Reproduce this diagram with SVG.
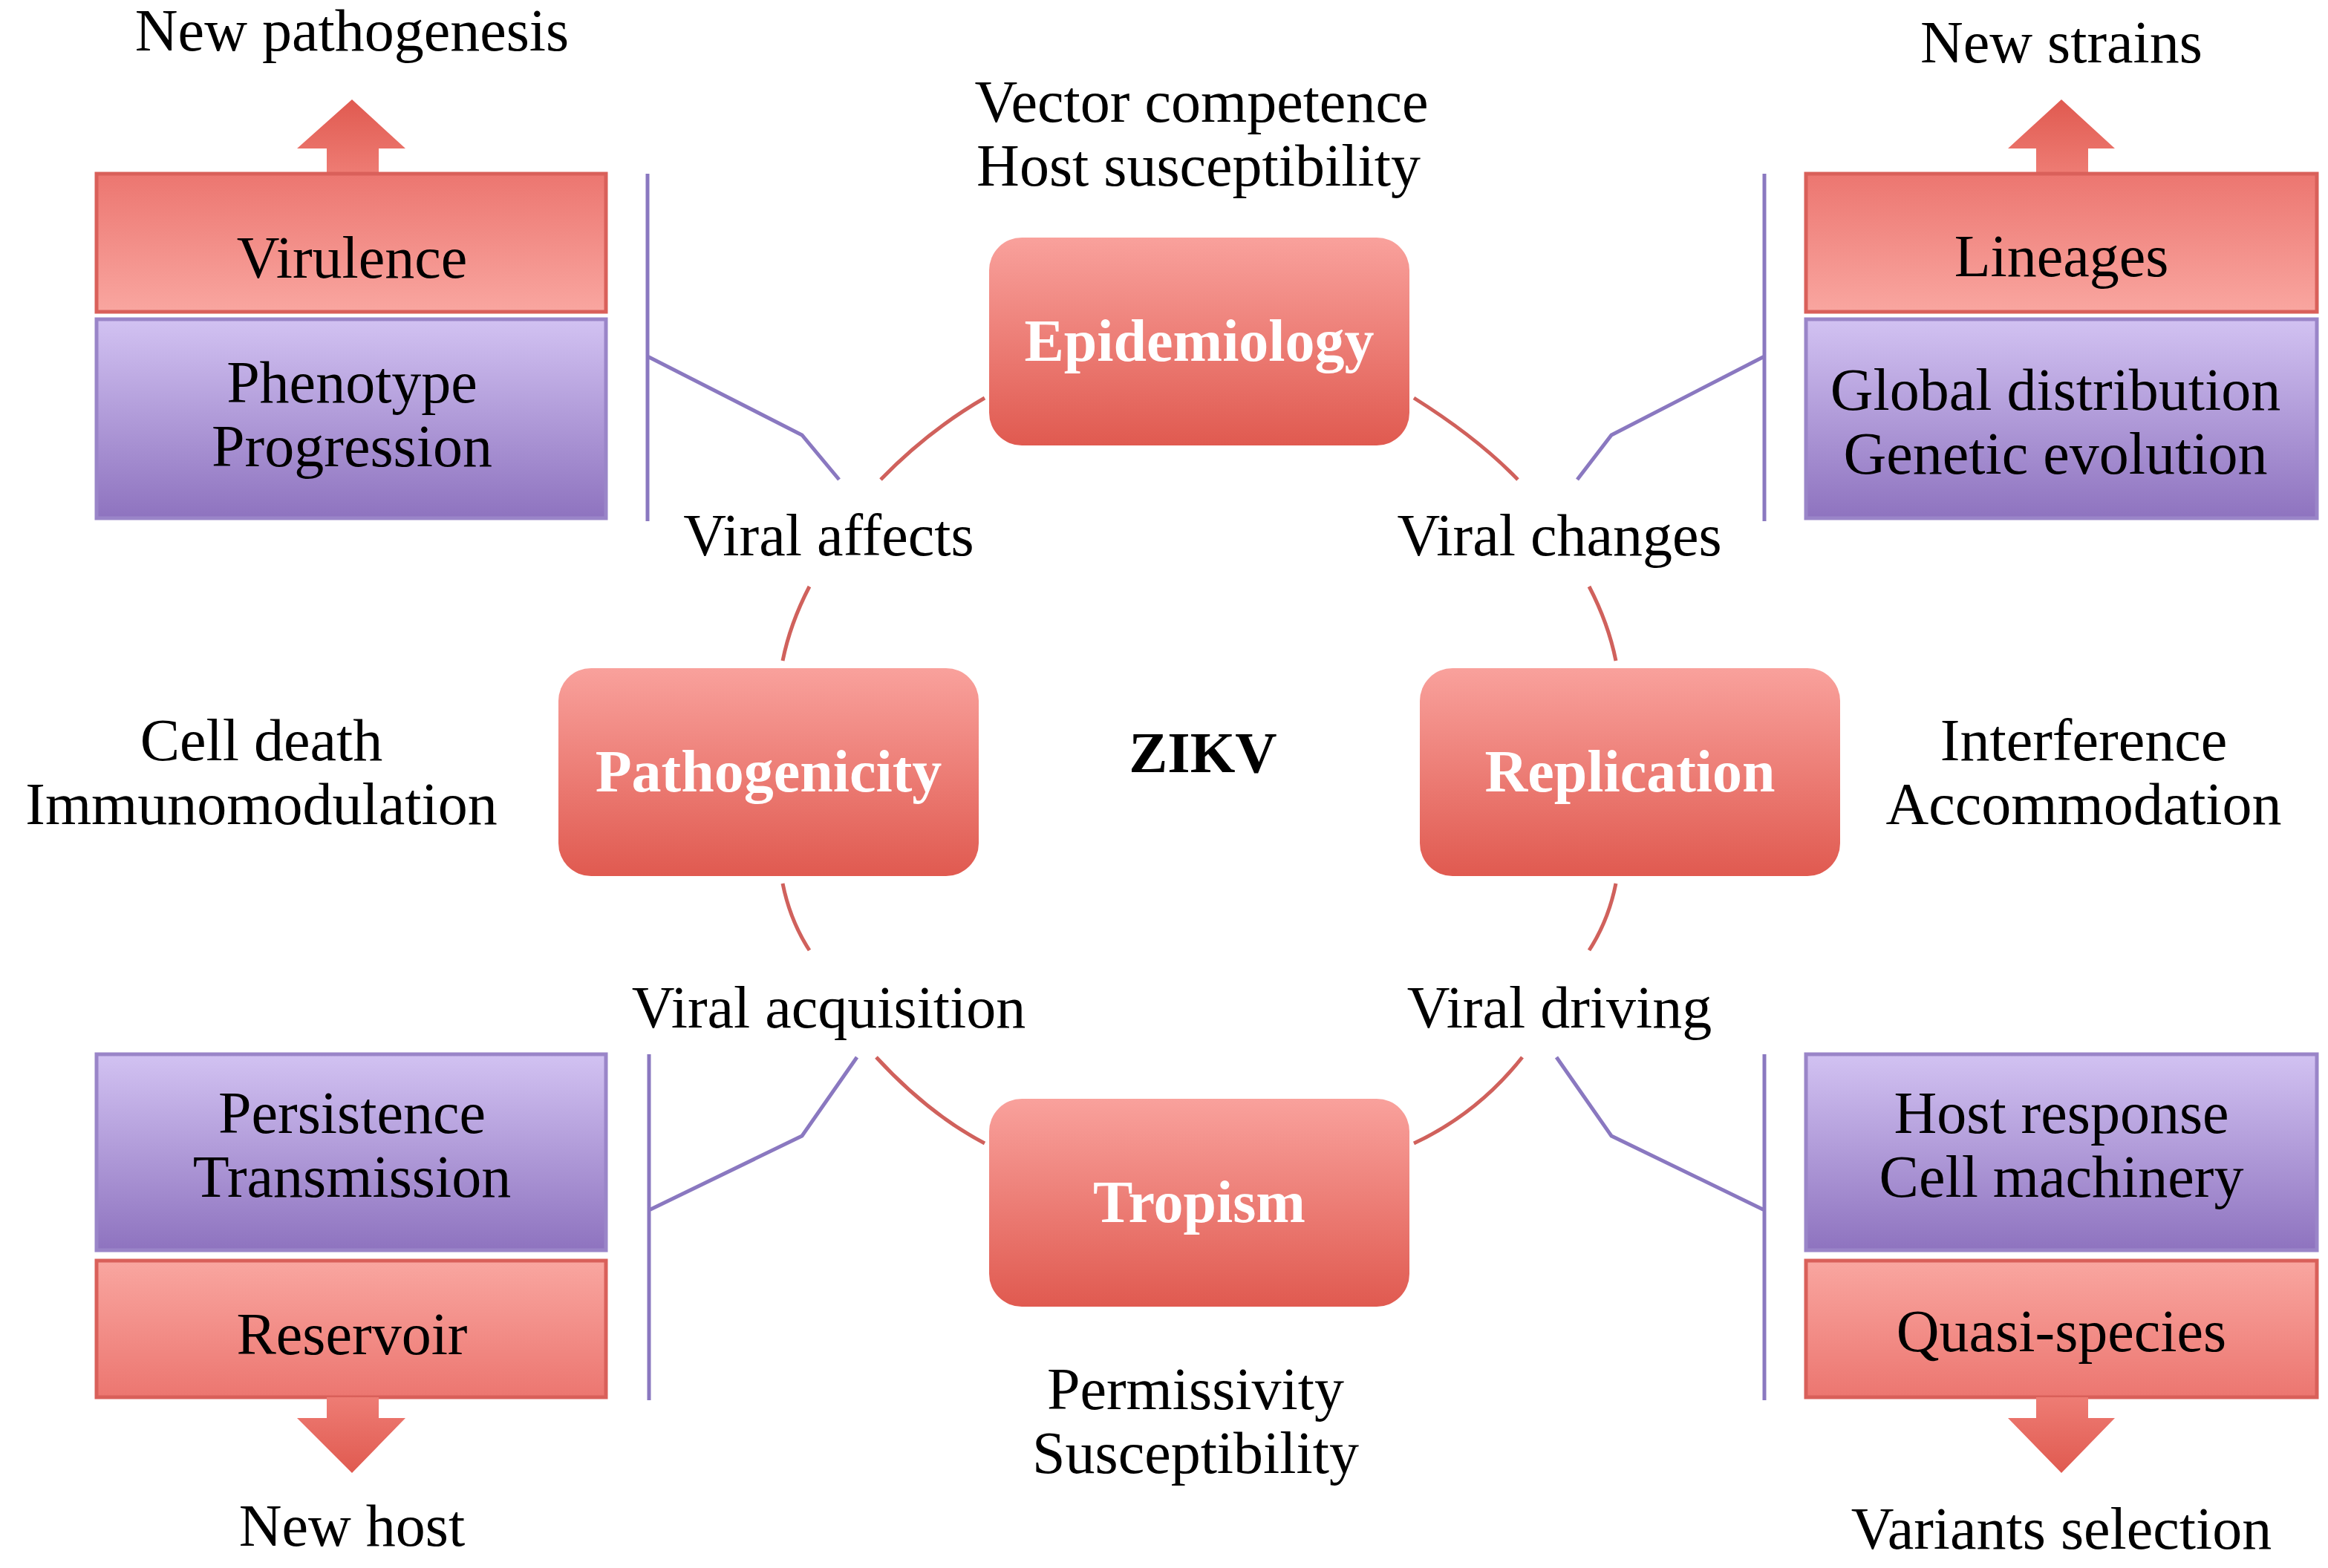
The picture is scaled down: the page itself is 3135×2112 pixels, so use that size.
<svg xmlns="http://www.w3.org/2000/svg" width="3135" height="2112" viewBox="0 0 3135 2112">
<defs>
<linearGradient id="gRed" x1="0" y1="0" x2="0" y2="1"><stop offset="0" stop-color="#f9a19c"/><stop offset="1" stop-color="#e05a50"/></linearGradient>
<linearGradient id="gRedBox" x1="0" y1="0" x2="0" y2="1"><stop offset="0" stop-color="#ec7670"/><stop offset="1" stop-color="#f9a6a0"/></linearGradient>
<linearGradient id="gRedBox2" x1="0" y1="0" x2="0" y2="1"><stop offset="0" stop-color="#f9a6a0"/><stop offset="1" stop-color="#ec7670"/></linearGradient>
<linearGradient id="gPur" x1="0" y1="0" x2="0" y2="1"><stop offset="0" stop-color="#d2c2f2"/><stop offset="1" stop-color="#8e73bf"/></linearGradient>
<linearGradient id="gArrUp" x1="0" y1="0" x2="0" y2="1"><stop offset="0" stop-color="#e05a50"/><stop offset="1" stop-color="#ee7c74"/></linearGradient>
<linearGradient id="gArrDn" x1="0" y1="0" x2="0" y2="1"><stop offset="0" stop-color="#ee7c74"/><stop offset="1" stop-color="#e05a50"/></linearGradient>
</defs>
<style>
text{font-family:"Liberation Serif","DejaVu Serif",serif;fill:#000;text-anchor:middle}
.t{font-size:80px}
.n{font-size:80px;font-weight:bold;fill:#fff}
.node{fill:url(#gRed)}
.rb{stroke:#d9605a;stroke-width:5}
.pb{stroke:#9a85c8;stroke-width:5}
.red{fill:none;stroke:#d0615c;stroke-width:5}
.pur{fill:none;stroke:#8a78c0;stroke-width:5}
</style>
<rect width="3135" height="2112" fill="#fff"/>
<g id="connectors">
<path class="red" d="M1186,646 Q1250,580 1326,536"/>
<path class="red" d="M1904,536 Q1990,590 2044,646"/>
<path class="red" d="M1090,790 Q1064,840 1054,890"/>
<path class="red" d="M2140,790 Q2166,840 2176,890"/>
<path class="red" d="M1054,1190 Q1064,1240 1090,1280"/>
<path class="red" d="M2176,1190 Q2166,1240 2140,1280"/>
<path class="red" d="M1180,1424 Q1250,1500 1326,1540"/>
<path class="red" d="M2050,1424 Q1990,1500 1904,1540"/>
<path class="pur" d="M872,234 V702 M872,480 L1080,586 L1130,646"/>
<path class="pur" d="M2376,234 V702 M2376,480 L2170,586 L2124,646"/>
<path class="pur" d="M874,1420 V1886 M874,1630 L1080,1530 L1154,1424"/>
<path class="pur" d="M2376,1420 V1886 M2376,1630 L2170,1530 L2096,1424"/>
</g>
<g id="top-left">
<text class="t" x="474" y="68">New pathogenesis</text>
<path d="M474,134 L546,200 L510,200 L510,234 L440,234 L440,200 L400,200 Z" fill="url(#gArrUp)"/>
<rect class="rb" x="130" y="234" width="686" height="186" fill="url(#gRedBox)"/>
<text class="t" x="474" y="374">Virulence</text>
<rect class="pb" x="130" y="430" width="686" height="268" fill="url(#gPur)"/>
<text class="t" x="474" y="542">Phenotype</text>
<text class="t" x="474" y="628">Progression</text>
</g>
<g id="top-right">
<text class="t" x="2776" y="84">New strains</text>
<path d="M2776,134 L2848,200 L2812,200 L2812,234 L2742,234 L2742,200 L2704,200 Z" fill="url(#gArrUp)"/>
<rect class="rb" x="2432" y="234" width="688" height="186" fill="url(#gRedBox)"/>
<text class="t" x="2776" y="372">Lineages</text>
<rect class="pb" x="2432" y="430" width="688" height="268" fill="url(#gPur)"/>
<text class="t" x="2768" y="552">Global distribution</text>
<text class="t" x="2768" y="638">Genetic evolution</text>
</g>
<g id="bottom-left">
<rect class="pb" x="130" y="1420" width="686" height="264" fill="url(#gPur)"/>
<text class="t" x="474" y="1526">Persistence</text>
<text class="t" x="474" y="1612">Transmission</text>
<rect class="rb" x="130" y="1698" width="686" height="184" fill="url(#gRedBox2)"/>
<text class="t" x="474" y="1824">Reservoir</text>
<path d="M440,1882 L510,1882 L510,1910 L546,1910 L474,1984 L400,1910 L440,1910 Z" fill="url(#gArrDn)"/>
<text class="t" x="474" y="2082">New host</text>
</g>
<g id="bottom-right">
<rect class="pb" x="2432" y="1420" width="688" height="264" fill="url(#gPur)"/>
<text class="t" x="2776" y="1526">Host response</text>
<text class="t" x="2776" y="1612">Cell machinery</text>
<rect class="rb" x="2432" y="1698" width="688" height="184" fill="url(#gRedBox2)"/>
<text class="t" x="2776" y="1820">Quasi-species</text>
<path d="M2742,1882 L2812,1882 L2812,1910 L2848,1910 L2776,1984 L2704,1910 L2742,1910 Z" fill="url(#gArrDn)"/>
<text class="t" x="2776" y="2086">Variants selection</text>
</g>
<g id="epidemiology">
<text class="t" x="1618" y="164">Vector competence</text>
<text class="t" x="1614" y="250">Host susceptibility</text>
<rect class="node" x="1332" y="320" width="566" height="280" rx="44"/>
<text class="n" x="1615" y="486">Epidemiology</text>
</g>
<g id="pathogenicity">
<rect class="node" x="752" y="900" width="566" height="280" rx="44"/>
<text class="n" x="1035" y="1066">Pathogenicity</text>
<text class="t" x="352" y="1024">Cell death</text>
<text class="t" x="352" y="1110">Immunomodulation</text>
</g>
<g id="replication">
<rect class="node" x="1912" y="900" width="566" height="280" rx="44"/>
<text class="n" x="2195" y="1066">Replication</text>
<text class="t" x="2806" y="1024">Interference</text>
<text class="t" x="2806" y="1110">Accommodation</text>
</g>
<g id="tropism">
<rect class="node" x="1332" y="1480" width="566" height="280" rx="44"/>
<text class="n" x="1615" y="1646">Tropism</text>
<text class="t" x="1610" y="1898">Permissivity</text>
<text class="t" x="1610" y="1984">Susceptibility</text>
</g>
<g id="zikv"><text x="1620" y="1040" style="font-size:78px;font-weight:bold">ZIKV</text></g>
<g id="labels">
<text class="t" x="1116" y="748">Viral affects</text>
<text class="t" x="2100" y="748">Viral changes</text>
<text class="t" x="1116" y="1384">Viral acquisition</text>
<text class="t" x="2100" y="1384">Viral driving</text>
</g>
</svg>
